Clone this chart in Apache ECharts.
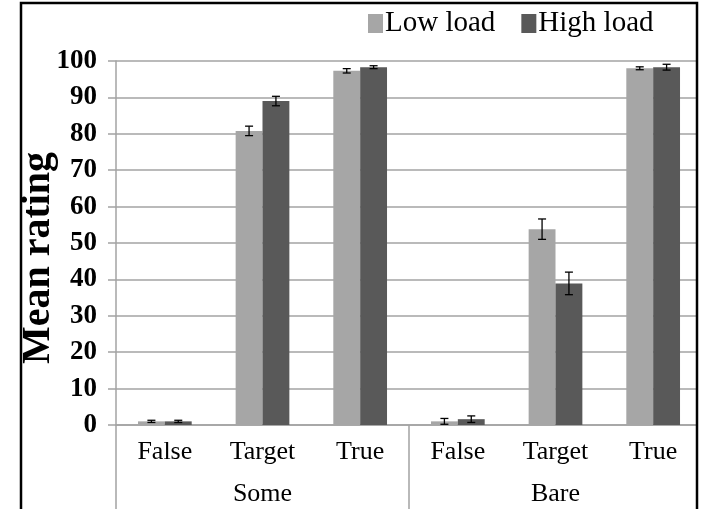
<!DOCTYPE html>
<html>
<head>
<meta charset="utf-8">
<script src="https://cdn.jsdelivr.net/npm/echarts@6/dist/echarts.min.js"></script>
<style>
  html, body { margin: 0; padding: 0; background: #fff; }
  #chart { width: 702px; height: 509px; }
</style>
</head>
<body>
<div id="chart"></div>
<script>
// Conditions (inner axis) and quantifier groups (outer axis)
const conditions = ['False', 'Target', 'True', 'False', 'Target', 'True'];
const groups = ['Some', 'Bare'];
const seriesNames = ['Low load', 'High load'];
const yTitle = 'Mean rating';

// Mean ratings per condition
const lowLoad  = [1.0, 80.8, 97.3, 1.0, 53.8, 98.0];
const highLoad = [1.0, 89.0, 98.3, 1.6, 38.9, 98.3];

// Standard errors
const lowErr  = [0.3, 1.3, 0.6, 0.8, 2.8, 0.4];
const highErr = [0.3, 1.3, 0.4, 0.9, 3.1, 0.8];

const yTicks = [0, 10, 20, 30, 40, 50, 60, 70, 80, 90, 100];

const LIGHT = '#a6a6a6';
const DARK = '#595959';
const AXIS_GRAY = '#a3a3a3';
const SERIF = '"Liberation Serif", "Times New Roman", serif';
const BAR_FRAC = 0.275;

function errorData(means, errs) {
  return means.map((m, i) => [i, m, errs[i]]);
}

// Whisker with caps, shifted onto the left (-1) or right (+1) bar of a pair
function errorBars(side) {
  return function (params, api) {
    const i = api.value(0);
    const m = api.value(1);
    const e = api.value(2);
    const band = api.size([1, 0])[0];
    const top = api.coord([i, m + e]);
    const bot = api.coord([i, m - e]);
    const x = top[0] + side * band * BAR_FRAC / 2;
    const cap = 4;
    const style = { stroke: '#000', lineWidth: 1.3 };
    return {
      type: 'group',
      children: [
        { type: 'line', shape: { x1: x, y1: top[1], x2: x, y2: bot[1] }, style },
        { type: 'line', shape: { x1: x - cap, y1: top[1], x2: x + cap, y2: top[1] }, style },
        { type: 'line', shape: { x1: x - cap, y1: bot[1], x2: x + cap, y2: bot[1] }, style }
      ]
    };
  };
}

const chart = echarts.init(document.getElementById('chart'), null, { renderer: 'canvas' });

chart.setOption({
  animation: false,
  backgroundColor: '#fff',
  grid: { left: 116, top: 61, width: 588, height: 364, containLabel: false },
  legend: {
    data: seriesNames,
    left: 363,
    top: 4,
    itemWidth: 15,
    itemHeight: 19,
    itemGap: 26,
    icon: 'rect',
    textStyle: { fontFamily: SERIF, fontSize: 29, color: '#000', padding: [0, 0, 0, -3] }
  },
  xAxis: [
    {
      type: 'category',
      data: conditions,
      position: 'bottom',
      axisLine: { show: true, lineStyle: { color: AXIS_GRAY, width: 1.5 } },
      axisTick: { show: false },
      axisLabel: { fontFamily: SERIF, fontSize: 26, color: '#000', margin: 14 }
    },
    {
      type: 'category',
      data: groups,
      position: 'bottom',
      axisLine: { show: false },
      axisTick: { show: true, length: 90, lineStyle: { color: AXIS_GRAY, width: 1.5 } },
      axisLabel: { fontFamily: SERIF, fontSize: 26, color: '#000', margin: 56 }
    }
  ],
  yAxis: {
    type: 'value',
    min: yTicks[0],
    max: yTicks[yTicks.length - 1],
    interval: 10,
    axisLine: { show: true, lineStyle: { color: AXIS_GRAY, width: 1.5 } },
    axisTick: { show: true, length: 8, lineStyle: { color: AXIS_GRAY, width: 1.5 } },
    axisLabel: { fontFamily: SERIF, fontSize: 27, fontWeight: 'bold', color: '#000', margin: 19 },
    splitLine: { show: true, lineStyle: { color: AXIS_GRAY, width: 1.5 } }
  },
  series: [
    {
      name: seriesNames[0],
      type: 'bar',
      data: lowLoad,
      barWidth: (BAR_FRAC * 100) + '%',
      barGap: '0%',
      itemStyle: { color: LIGHT }
    },
    {
      name: seriesNames[1],
      type: 'bar',
      data: highLoad,
      barWidth: (BAR_FRAC * 100) + '%',
      barGap: '0%',
      itemStyle: { color: DARK }
    },
    {
      type: 'custom',
      renderItem: errorBars(-1),
      data: errorData(lowLoad, lowErr),
      z: 10,
      silent: true
    },
    {
      type: 'custom',
      renderItem: errorBars(1),
      data: errorData(highLoad, highErr),
      z: 10,
      silent: true
    }
  ],
  graphic: [
    {
      // vertical axis title
      type: 'text',
      x: 39,
      y: 258,
      rotation: Math.PI / 2,
      style: {
        text: yTitle,
        font: 'bold 40px ' + SERIF,
        fill: '#000',
        align: 'center',
        verticalAlign: 'middle'
      },
      z: 50
    },
    {
      // blank margin past the right frame edge
      type: 'rect',
      shape: { x: 697, y: 0, width: 10, height: 509 },
      style: { fill: '#fff' },
      z: 99,
      silent: true
    },
    {
      // outer frame
      type: 'rect',
      shape: { x: 21, y: 3, width: 676, height: 520 },
      style: { fill: 'none', stroke: '#000', lineWidth: 2.5 },
      z: 100,
      silent: true
    }
  ]
});
</script>
</body>
</html>
